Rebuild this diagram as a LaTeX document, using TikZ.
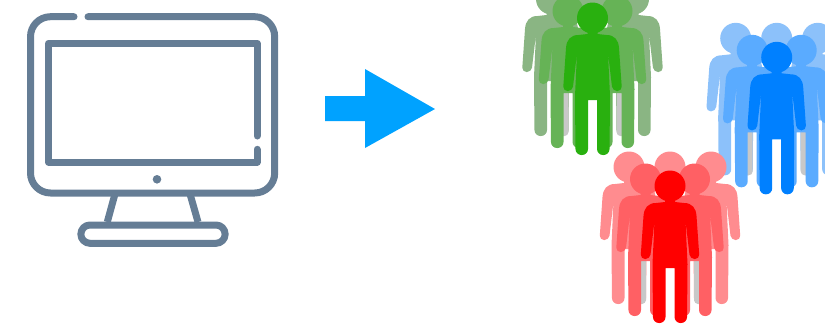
\documentclass[tikz,border=0pt]{standalone}
\definecolor{screenGray}{HTML}{657D95}
\definecolor{arrowBlue}{HTML}{00A2FF}
\definecolor{legGray}{HTML}{C8C8C8}
\definecolor{greenFront}{HTML}{29B00F}
\definecolor{greenMid}{HTML}{66B356}
\definecolor{greenBack}{HTML}{8AB583}
\definecolor{blueFront}{HTML}{0080FF}
\definecolor{blueMid}{HTML}{5AABFF}
\definecolor{blueBack}{HTML}{8CC1FA}
\definecolor{redFront}{HTML}{FF0000}
\definecolor{redMid}{HTML}{FF6064}
\definecolor{redBack}{HTML}{FF8C8F}
\tikzset{
	screenLine/.style={draw=screenGray, line width=7pt, line cap=round, line join=round},
	person/.pic={
		\fill[pic actions] (0,0) circle (15.5);
		\fill[pic actions] (-5,10) -- (5,10) -- (5,16) -- (14,17)
			.. controls (22,17) and (26,22) .. (26.5,30)
			[rounded corners=4.5pt] -- (29.5,73) -- (20,73) [sharp corners] -- (15.5,35)
			-- (17.5,78) [rounded corners=6pt] -- (17,137) -- (4.5,137) [sharp corners]
			-- (4.5,82) -- (-4.5,82) [rounded corners=6pt] -- (-4.5,137) -- (-17,137) [sharp corners]
			-- (-17.5,78) -- (-15.5,35) [rounded corners=4.5pt] -- (-20,73) -- (-29.5,73) [sharp corners]
			-- (-26.5,30) .. controls (-26,22) and (-22,17) .. (-14,17) -- (-5,16) -- cycle;
	},
	personHead/.pic={
		\fill[pic actions] (0,0) circle (15.5);
	},
	grayLeg/.pic={
		\fill[legGray, rounded corners=4pt] (4.5,70) -- (17,70) -- (17,137) -- (4.5,137) -- cycle;
	}
}
\newcommand{\crowd}[5]{
	\pic[fill=#5] at (#1,#2-19) {personHead};
	\pic[fill=#5] at (#1-41,#2-19) {person};
	\pic[fill=#5] at (#1+41,#2-19) {person};
	\pic at (#1-41,#2-19) {grayLeg};
	\pic[xscale=-1] at (#1+41,#2-19) {grayLeg};
	\pic[fill=#4] at (#1-24.5,#2-7) {person};
	\pic[fill=#4] at (#1+24.5,#2-7) {person};
	\pic[fill=#3] at (#1,#2) {person};
}
\begin{document}
\begin{tikzpicture}[x=1pt,y=-1pt]
\clip (0,0) rectangle (825,325);
% monitor
\draw[screenLine] (88,16.7) -- (254.7,16.7) arc (-90:0:20) -- (274.7,173) arc (0:90:20)
	-- (50.5,193) arc (90:180:20) -- (30.5,36.7) arc (180:270:20) -- (74,16.7);
\draw[screenLine] (257,136) -- (257,43.3) -- (48.5,43.3) -- (48.5,162) -- (257,162) -- (257,149.3);
\fill[screenGray] (157,179.3) circle (4.3);
\draw[screenLine, line cap=butt] (114.7,195) -- (107.3,222);
\draw[screenLine, line cap=butt] (190.3,195) -- (198,222);
\draw[screenLine] (90,225) -- (216,225) arc (-90:90:9.15) -- (90,243.3) arc (90:270:9.15) -- cycle;
% arrow
\fill[arrowBlue] (325,96) -- (365,96) -- (365,69) -- (435,109) -- (365,148) -- (365,121) -- (325,121) -- cycle;
% people
\crowd{592.5}{18}{greenFront}{greenMid}{greenBack}
\crowd{776.7}{57.3}{blueFront}{blueMid}{blueBack}
\crowd{670}{186}{redFront}{redMid}{redBack}
\end{tikzpicture}
\end{document}
